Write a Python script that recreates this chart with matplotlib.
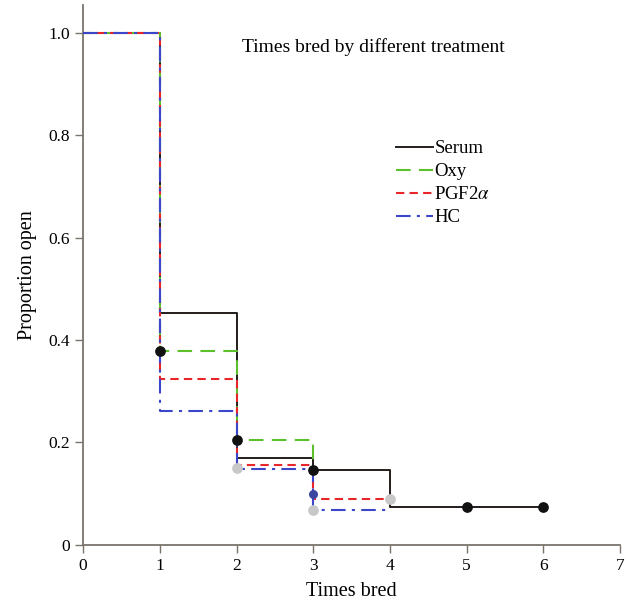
import numpy as np
import matplotlib.pyplot as plt

# Kaplan-Meier style step curves
serum_x = [0, 1, 2, 3, 4, 6]
serum_y = [1.0, 0.453, 0.170, 0.146, 0.074, 0.074]
oxy_x = [0, 1, 2, 3]
oxy_y = [1.0, 0.379, 0.205, 0.145]
pgf_x = [0, 1, 2, 3, 4]
pgf_y = [1.0, 0.324, 0.156, 0.090, 0.090]
hc_x = [0, 1, 2, 3, 4]
hc_y = [1.0, 0.262, 0.148, 0.068, 0.068]

# censor dots
dark_x = [1, 2, 3, 5, 6]
dark_y = [0.379, 0.205, 0.146, 0.074, 0.074]
blue_x = [3]
blue_y = [0.100]
gray_x = [2, 3, 4]
gray_y = [0.150, 0.068, 0.090]

plt.rcParams['font.family'] = ['Liberation Serif', 'DejaVu Serif']
plt.rcParams['mathtext.fontset'] = 'stix'

fig = plt.figure(figsize=(6.29, 6.02), dpi=100)
ax = fig.add_axes([0.132, 0.095, 0.854, 0.897])

ax.plot(serum_x, serum_y, drawstyle='steps-post', color='#221c1a', lw=1.4,
        label='Serum', zorder=2)
ax.plot(oxy_x, oxy_y, drawstyle='steps-post', color='#5cc02c', lw=1.5,
        linestyle=(0, (7, 4)), label='Oxy', zorder=3)
ax.plot(pgf_x, pgf_y, drawstyle='steps-post', color='#e8262a', lw=1.5,
        linestyle=(0, (4, 2.5)), label='PGF2$\\alpha$', zorder=4)
ax.plot(hc_x, hc_y, drawstyle='steps-post', color='#3c46c8', lw=1.5,
        linestyle=(0, (7, 3, 1.5, 3)), label='HC', zorder=5)

ax.scatter(gray_x, gray_y, s=45, color='#c8c8c8', zorder=6)
ax.scatter(blue_x, blue_y, s=30, color='#3c46a0', zorder=6)
ax.scatter(dark_x, dark_y, s=45, color='#111111', zorder=7)

ax.set_xlim(0, 7)
ax.set_ylim(0, 1.055)
ax.set_xticks(range(8))
ax.set_yticks([0, 0.2, 0.4, 0.6, 0.8, 1.0])
ax.set_yticklabels(['0', '0.2', '0.4', '0.6', '0.8', '1.0'])
ax.tick_params(labelsize=12.5, color='#7a746c', length=6, width=1)
for s in ['top', 'right']:
    ax.spines[s].set_visible(False)
for s in ['left', 'bottom']:
    ax.spines[s].set_color('#7a746c')
    ax.spines[s].set_linewidth(1.3)

ax.set_xlabel('Times bred', fontsize=14.5, labelpad=6)
ax.set_ylabel('Proportion open', fontsize=14.5, labelpad=8)
ax.text(0.54, 0.922, 'Times bred by different treatment', transform=ax.transAxes,
        fontsize=14, ha='center', va='center')

ax.legend(loc='upper left', bbox_to_anchor=(0.551, 0.781), frameon=False,
          fontsize=13.5, handlelength=2.0, handletextpad=0.05, labelspacing=0.32)

fig.savefig('out.png', dpi=100)
